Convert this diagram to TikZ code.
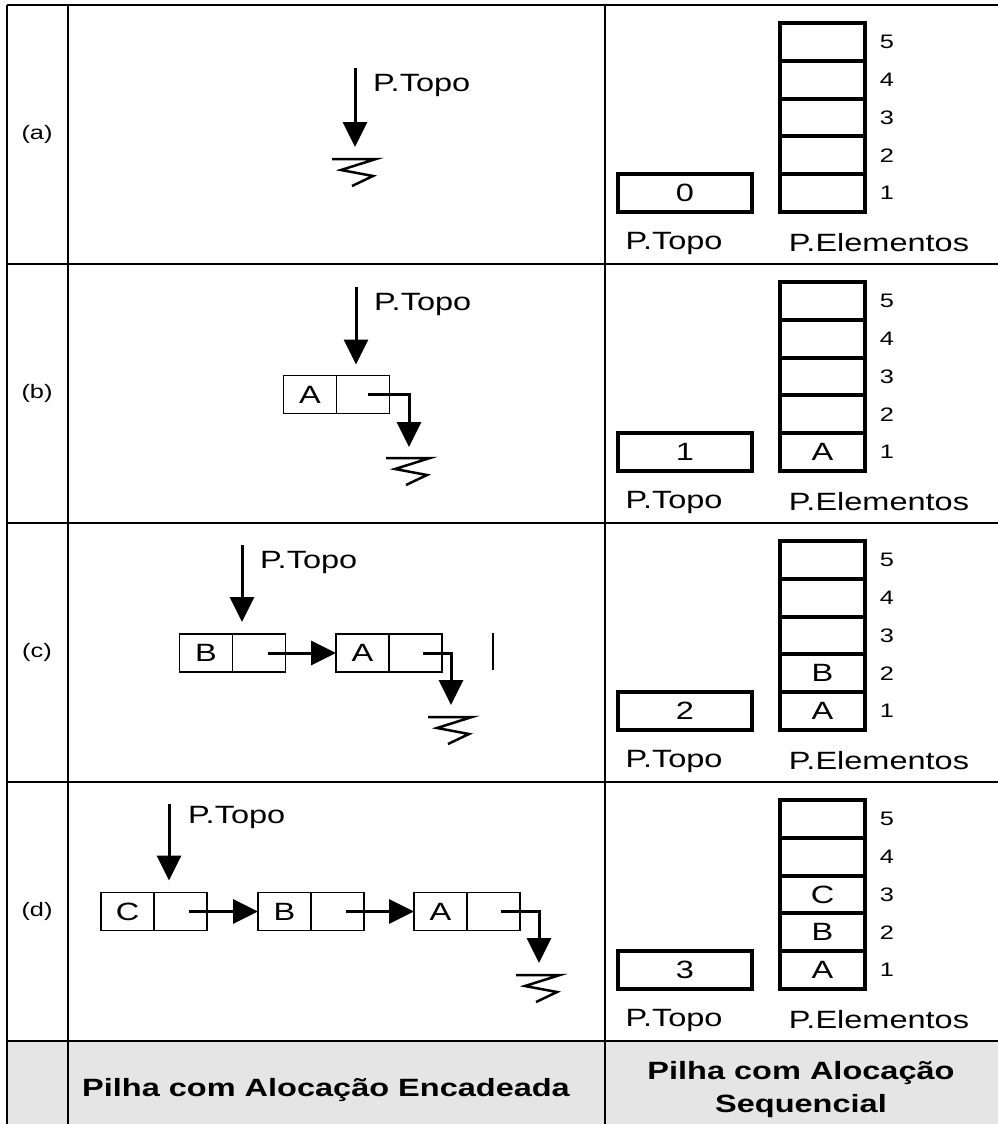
\documentclass[tikz,border=0pt]{standalone}
\usepackage{fontspec}
\setmainfont{Liberation Sans}[FakeStretch=1.3]
\usetikzlibrary{arrows.meta, positioning}

\tikzset{
  grid line/.style={line width=2.5pt},
  cell/.style={draw, line width=1.5pt, minimum width=53pt, minimum height=38pt,
    inner sep=0pt, outer sep=0pt, font=\fontsize{25}{28}\selectfont},
  slot/.style={draw, line width=4pt, minimum width=85pt, minimum height=37.8pt,
    inner sep=0pt, outer sep=0pt, font=\fontsize{25}{28}\selectfont},
  topbox/.style={slot, minimum width=134pt},
  link/.style={line width=3pt, -{Triangle[length=25pt, width=24pt]}},
  lbl/.style={font=\fontsize{25}{28}\selectfont, inner sep=0pt},
  small/.style={font=\fontsize{19.5}{22}\selectfont, inner sep=0pt},
  earth/.pic={\draw[line width=2.5pt, line join=miter]
    (-23,0) -- (21,0) -- (-14,11) -- (18,17) -- (-3,27);}
}

\begin{document}
\begin{tikzpicture}[x=1pt, y=-1pt]
\useasboundingbox (0,0) rectangle (998,1124);

% table
\fill[black!10] (7,1041) rectangle (998,1124);
\draw[grid line] (7,5) -- (998,5);
\draw[grid line] (7,5) -- (7,1124);
\draw[grid line] (68,5) -- (68,1124);
\draw[grid line] (605,5) -- (605,1124);
\foreach \y in {264,523,782,1041}
  \draw[grid line] (7,\y) -- (998,\y);

\node[small] (la) at (37,134) {(a)};
\node[small] (lb) at (37,393) {(b)};
\node[small] (lc) at (37,652) {(c)};
\node[small] (ld) at (37,911) {(d)};

% (a) empty chained stack
\coordinate (topa) at (355,68);
\coordinate (nila) at (355,159);
\draw[link, shorten >=12pt] (topa) -- (nila);
\node[lbl, anchor=base west] (pta) at (373,92) {P.Topo};
\pic at (nila) {earth};

% (b)
\node[cell] (bA) at (310,394.5) {A};
\node[cell, right=0pt of bA] (bAp) {};
\coordinate (topb) at (356,287);
\draw[link, shorten >=11pt] (topb) -- (topb |- bAp.north);
\node[lbl, anchor=base west] (ptb) at (374,310) {P.Topo};
\coordinate (nilb) at (409,458);
\draw[link, shorten >=11pt] ([xshift=5pt]bAp.center) -| (nilb);
\pic at (nilb) {earth};

% (c)
\node[cell] (cB) at (206,653) {B};
\node[cell, right=0pt of cB] (cBp) {};
\node[cell] (cA) at (362.5,653) {A};
\node[cell, right=0pt of cA] (cAp) {};
\draw[link] ([xshift=9pt]cBp.center) -- (cA.west);
\coordinate (topc) at (242,545);
\draw[link, shorten >=12pt] (topc) -- (topc |- cBp.north);
\node[lbl, anchor=base west] (ptc) at (260,568) {P.Topo};
\coordinate (nilc) at (451,717);
\draw[link, shorten >=12pt] ([xshift=7pt]cAp.center) -| (nilc);
\pic at (nilc) {earth};
\draw[line width=2pt] (493,633) -- (493,670);

% (d)
\node[cell] (dC) at (127.5,911.5) {C};
\node[cell, right=0pt of dC] (dCp) {};
\node[cell] (dB) at (284.5,911.5) {B};
\node[cell, right=0pt of dB] (dBp) {};
\node[cell] (dA) at (440.5,911.5) {A};
\node[cell, right=0pt of dA] (dAp) {};
\draw[link] ([xshift=8pt]dCp.center) -- (dB.west);
\draw[link] ([xshift=8pt]dBp.center) -- (dA.west);
\coordinate (topd) at (169,804);
\draw[link, shorten >=12pt] (topd) -- (topd |- dCp.north);
\node[lbl, anchor=base west] (ptd) at (188,823) {P.Topo};
\coordinate (nild) at (539,975);
\draw[link, shorten >=12pt] ([xshift=7pt]dAp.center) -| (nild);
\pic at (nild) {earth};

% sequential stacks
\foreach \k in {0,...,3}{
  \pgfmathsetmacro{\yb}{193+259*\k}
  \node[topbox] (top\k) at (685,\yb) {\k};
  \foreach \i in {1,...,5}{
    \pgfmathsetmacro{\yc}{\yb-37.8*(\i-1)}
    \node[slot] (el\k-\i) at (822.5,\yc) {\ifnum\i>\k\else\ifcase\i\or A\or B\or C\fi\fi};
    \node[small] (num\k-\i) at (887,\yc) {\i};
  }
  \node[lbl] (ltop\k) at (674,\yb+50) {P.Topo};
  \node[lbl] (lel\k) at (879,\yb+50) {P.Elementos};
}

% header row
\node[font=\bfseries\fontsize{25}{33}\selectfont] (hl) at (326,1090) {Pilha com Alocação Encadeada};
\node[font=\bfseries\fontsize{25}{33}\selectfont, align=center] (hr) at (801,1090) {Pilha com Alocação\\Sequencial};
\end{tikzpicture}
\end{document}
